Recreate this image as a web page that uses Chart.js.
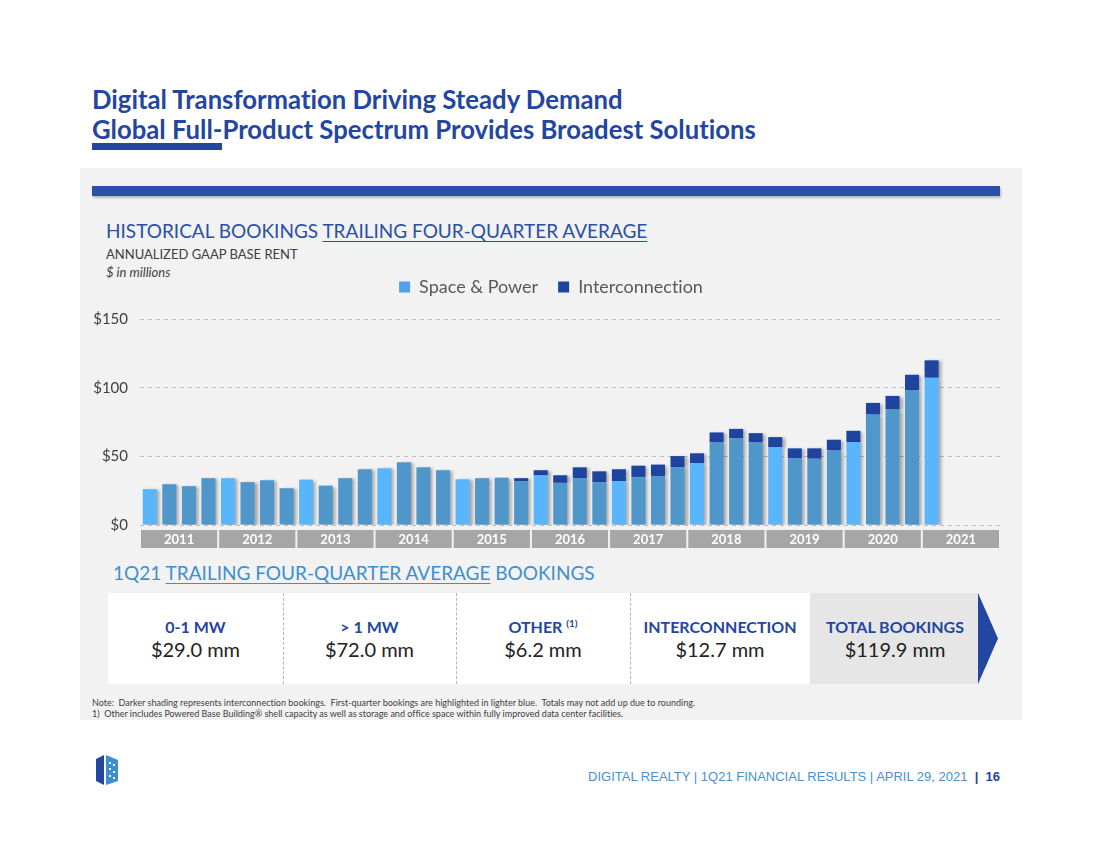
<!DOCTYPE html>
<html>
<head>
<meta charset="utf-8">
<script src="https://cdn.jsdelivr.net/npm/chart.js@4.4.1/dist/chart.umd.min.js"></script>
<style>
  html, body { margin: 0; padding: 0; background: #ffffff; }
  body { width: 1100px; height: 850px; position: relative; overflow: hidden; font-family: Lato, "Open Sans", sans-serif; font-variant-ligatures: none; }
  .abs { position: absolute; }
  .title { left: 92px; font-weight: bold; font-size: 25.7px; color: #2346a0; white-space: nowrap; }
  .panel { left: 80px; top: 168px; width: 942px; height: 552px; background: #f2f2f2; }
  .hdr { left: 106px; top: 219px; font-size: 19px; color: #2b4fa8; white-space: nowrap; }
  .hdr u { text-decoration-thickness: 1px; text-underline-offset: 3px; }
  .sub { left: 106px; font-size: 13px; color: #404040; white-space: nowrap; }
  .chartbox { left: 90px; top: 258px; width: 920px; height: 297px; }
  .bk-title { left: 113px; top: 561px; font-size: 19px; color: #3d8fd1; white-space: nowrap; }
  .bk-title u { text-decoration-thickness: 1px; text-underline-offset: 3px; }
  .cell { top: 593px; height: 91px; text-align: center; }
  .cell .lbl { margin-top: 24px; font-weight: bold; font-size: 16px; color: #2346a0; }
  .cell .val { margin-top: 1px; font-size: 20px; color: #222222; }
  .sep { top: 593px; height: 91px; width: 0; border-left: 1px dashed #b5b5b5; }
  .note { left: 92px; font-size: 9px; color: #404040; white-space: nowrap; }
  .footer { right: 100px; top: 769px; font-family: "Liberation Sans", Arial, sans-serif; font-size: 13px; color: #4a8fd0; white-space: nowrap; }
  .footer b { color: #2346a0; }
</style>
</head>
<body>
<div class="abs title" style="top:84px;">Digital Transformation Driving Steady Demand</div>
<div class="abs title" style="top:114px;">Global Full-Product Spectrum Provides Broadest Solutions</div>
<div class="abs" style="left:92px; top:143px; width:130px; height:7px; background:#2346a0;"></div>

<div class="abs panel"></div>
<div class="abs" style="left:92px; top:186px; width:908px; height:10px; background:#2b50a8; box-shadow:1px 2px 2px rgba(0,0,0,0.25);"></div>

<div class="abs hdr">HISTORICAL BOOKINGS <u>TRAILING FOUR-QUARTER AVERAGE</u></div>
<div class="abs sub" style="top:246px;">ANNUALIZED GAAP BASE RENT</div>
<div class="abs sub" style="top:264px; font-style:italic;">$ in millions</div>

<div class="abs chartbox"><canvas id="bookingsChart"></canvas></div>

<div class="abs bk-title">1Q21 <u>TRAILING FOUR-QUARTER AVERAGE</u> BOOKINGS</div>
<div class="abs" style="left:108px; top:593px; width:702px; height:91px; background:#ffffff;"></div>
<div class="abs" style="left:810px; top:593px; width:170px; height:91px; background:#e6e6e6;"></div>
<svg class="abs" style="left:978px; top:593px;" width="22" height="91"><polygon points="0,0 20,45.5 0,91" fill="#2346a0"/></svg>
<div class="abs sep" style="left:283px;"></div>
<div class="abs sep" style="left:456px;"></div>
<div class="abs sep" style="left:630px;"></div>
<div id="cells"></div>

<div class="abs note" style="top:697px;">Note:&nbsp; Darker shading represents interconnection bookings.&nbsp; First-quarter bookings are highlighted in lighter blue.&nbsp; Totals may not add up due to rounding.</div>
<div class="abs note" style="top:708px;">1)&nbsp; Other includes Powered Base Building® shell capacity as well as storage and office space within fully improved data center facilities.</div>

<svg class="abs" style="left:94px; top:753px;" width="26" height="34" viewBox="0 0 26 34">
  <polygon points="2,6 10,2 10,32 2,28" fill="#2346a0"/>
  <polygon points="12,2 24,7 24,28 12,32" fill="#3d8fd1"/>
  <rect x="15" y="9" width="2" height="2" fill="#fff"/><rect x="19" y="11" width="2" height="2" fill="#fff"/>
  <rect x="15" y="15" width="2" height="2" fill="#fff"/><rect x="19" y="18" width="2" height="2" fill="#fff"/>
  <rect x="15" y="22" width="2" height="2" fill="#fff"/><rect x="19" y="24" width="2" height="2" fill="#fff"/>
</svg>
<div class="abs footer">DIGITAL REALTY | 1Q21 FINANCIAL RESULTS | APRIL 29, 2021 &nbsp;<b>| &nbsp;16</b></div>

<script>
// ---- data ----
const years = ['2011', '2012', '2013', '2014', '2015', '2016', '2017', '2018', '2019', '2020', '2021'];
const quarterNames = ['1Q', '2Q', '3Q', '4Q'];

// trailing four-quarter average, $ millions, 1Q11 .. 1Q21
const spacePower = [
    26.1, 29.7, 28.3, 34.1,
    34.1, 31.2, 32.6, 26.8,
    33.1, 28.7, 34.1, 40.6,
    41.3, 45.7, 42.0, 39.9,
    33.3, 34.1, 34.5, 31.9,
    36.2, 30.7, 34.1, 31.2,
    31.9, 35.0, 35.7, 42.0,
    44.9, 60.1, 63.0, 60.1,
    56.8, 48.6, 48.3, 54.3,
    60.4, 80.4, 84.1, 98.1,
    107.2
];
const interconnection = [
    0, 0, 0, 0,
    0, 0, 0, 0,
    0, 0, 0, 0,
    0, 0, 0, 0,
    0, 0, 0, 2.2,
    3.7, 5.5, 7.9, 7.9,
    8.7, 8.2, 8.3, 8.2,
    7.3, 7.3, 7.0, 6.8,
    7.2, 7.2, 7.5, 7.8,
    8.2, 8.5, 9.9, 11.3,
    12.7
];
const yTicks = [0, 50, 100, 150];

const bookingCells = [
    { label: '0-1 MW', value: '$29.0 mm' },
    { label: '> 1 MW', value: '$72.0 mm' },
    { label: 'OTHER <sup style="font-size:10px">(1)</sup>', value: '$6.2 mm' },
    { label: 'INTERCONNECTION', value: '$12.7 mm' },
    { label: 'TOTAL BOOKINGS', value: '$119.9 mm' }
];
const cellEdges = [108, 283, 456, 630, 810, 980];

// ---- colours ----
const LIGHT_BLUE = '#5ab6fc';
const MID_BLUE = '#4f97cb';
const DARK_BLUE = '#1e44a0';

const labels = [];
years.forEach(y => quarterNames.forEach(q => labels.push(q + y.slice(2))));
const spaceColors = labels.map((l, i) => (i % 4 === 0 ? LIGHT_BLUE : MID_BLUE));

// booking summary cells
const cellsEl = document.getElementById('cells');
bookingCells.forEach((c, i) => {
    const d = document.createElement('div');
    d.className = 'abs cell';
    d.style.left = cellEdges[i] + 'px';
    d.style.width = (cellEdges[i + 1] - cellEdges[i]) + 'px';
    d.innerHTML = '<div class="lbl">' + c.label + '</div><div class="val">' + c.value + '</div>';
    cellsEl.appendChild(d);
});

// soft shadow behind the bars
const barShadow = {
    id: 'barShadow',
    beforeDatasetsDraw(chart) {
        const ctx = chart.ctx;
        ctx.save();
        ctx.shadowColor = 'rgba(0, 0, 0, 0.3)';
        ctx.shadowBlur = 3;
        ctx.shadowOffsetX = 3;
        ctx.shadowOffsetY = 1;
    },
    afterDatasetsDraw(chart) {
        chart.ctx.restore();
    }
};

// grey year band under the x axis
const yearBand = {
    id: 'yearBand',
    afterDraw(chart) {
        const ctx = chart.ctx;
        const x = chart.scales.x;
        const slot = x.width / labels.length;
        const top = chart.chartArea.bottom + 5;
        ctx.save();
        years.forEach((y, i) => {
            const x0 = x.getPixelForValue(i * 4) - slot / 2;
            const x1 = x.getPixelForValue(i * 4 + 3) + slot / 2;
            ctx.fillStyle = '#a6a6a6';
            ctx.fillRect(x0 + 1, top, x1 - x0 - 2, 18);
            ctx.fillStyle = '#ffffff';
            ctx.font = 'bold 13px Lato, sans-serif';
            ctx.textAlign = 'center';
            ctx.textBaseline = 'middle';
            ctx.fillText(y, (x0 + x1) / 2, top + 9.5);
        });
        ctx.restore();
    }
};

// extra room under the legend, and nudge it a little right
const legendGap = {
    id: 'legendGap',
    beforeInit(chart) {
        const legend = chart.legend;
        const fit = legend.fit;
        legend.fit = function () {
            fit.call(this);
            this.height += 13;
        };
        const draw = legend.draw;
        legend.draw = function () {
            this.ctx.save();
            this.ctx.translate(6, 0);
            draw.call(this);
            this.ctx.restore();
        };
    }
};

new Chart(document.getElementById('bookingsChart'), {
    type: 'bar',
    data: {
        labels: labels,
        datasets: [{
            label: 'Space & Power',
            data: spacePower,
            backgroundColor: spaceColors,
            borderWidth: 0,
            barPercentage: 0.72,
            categoryPercentage: 1
        }, {
            label: 'Interconnection',
            data: interconnection,
            backgroundColor: DARK_BLUE,
            borderWidth: 0,
            barPercentage: 0.72,
            categoryPercentage: 1
        }]
    },
    options: {
        responsive: true,
        maintainAspectRatio: false,
        animation: false,
        layout: { padding: { right: 10 } },
        plugins: {
            legend: {
                position: 'top',
                labels: {
                    color: '#595959',
                    font: { family: 'Lato', size: 18 },
                    boxWidth: 11,
                    boxHeight: 11,
                    padding: 20,
                    generateLabels() {
                        return [
                            { text: 'Space & Power', fillStyle: '#4aa3ec', strokeStyle: '#4aa3ec', lineWidth: 0, fontColor: '#595959', datasetIndex: 0 },
                            { text: 'Interconnection', fillStyle: DARK_BLUE, strokeStyle: DARK_BLUE, lineWidth: 0, fontColor: '#595959', datasetIndex: 1 }
                        ];
                    }
                }
            },
            tooltip: { enabled: false }
        },
        scales: {
            x: {
                stacked: true,
                grid: { display: false },
                border: { display: false },
                ticks: { display: false },
                afterFit(scale) { scale.height = 30; }
            },
            y: {
                stacked: true,
                min: 0,
                max: 150,
                afterBuildTicks(scale) { scale.ticks = yTicks.map(v => ({ value: v })); },
                afterFit(scale) { scale.width = 50; },
                border: { display: false, dash: [4, 4] },
                grid: { color: '#bdbdbd', lineWidth: 1, drawTicks: false },
                ticks: {
                    color: '#404040',
                    font: { family: 'Lato', size: 15 },
                    padding: 12,
                    callback: v => '$' + v
                }
            }
        }
    },
    plugins: [barShadow, yearBand, legendGap]
});
</script>
</body>
</html>
